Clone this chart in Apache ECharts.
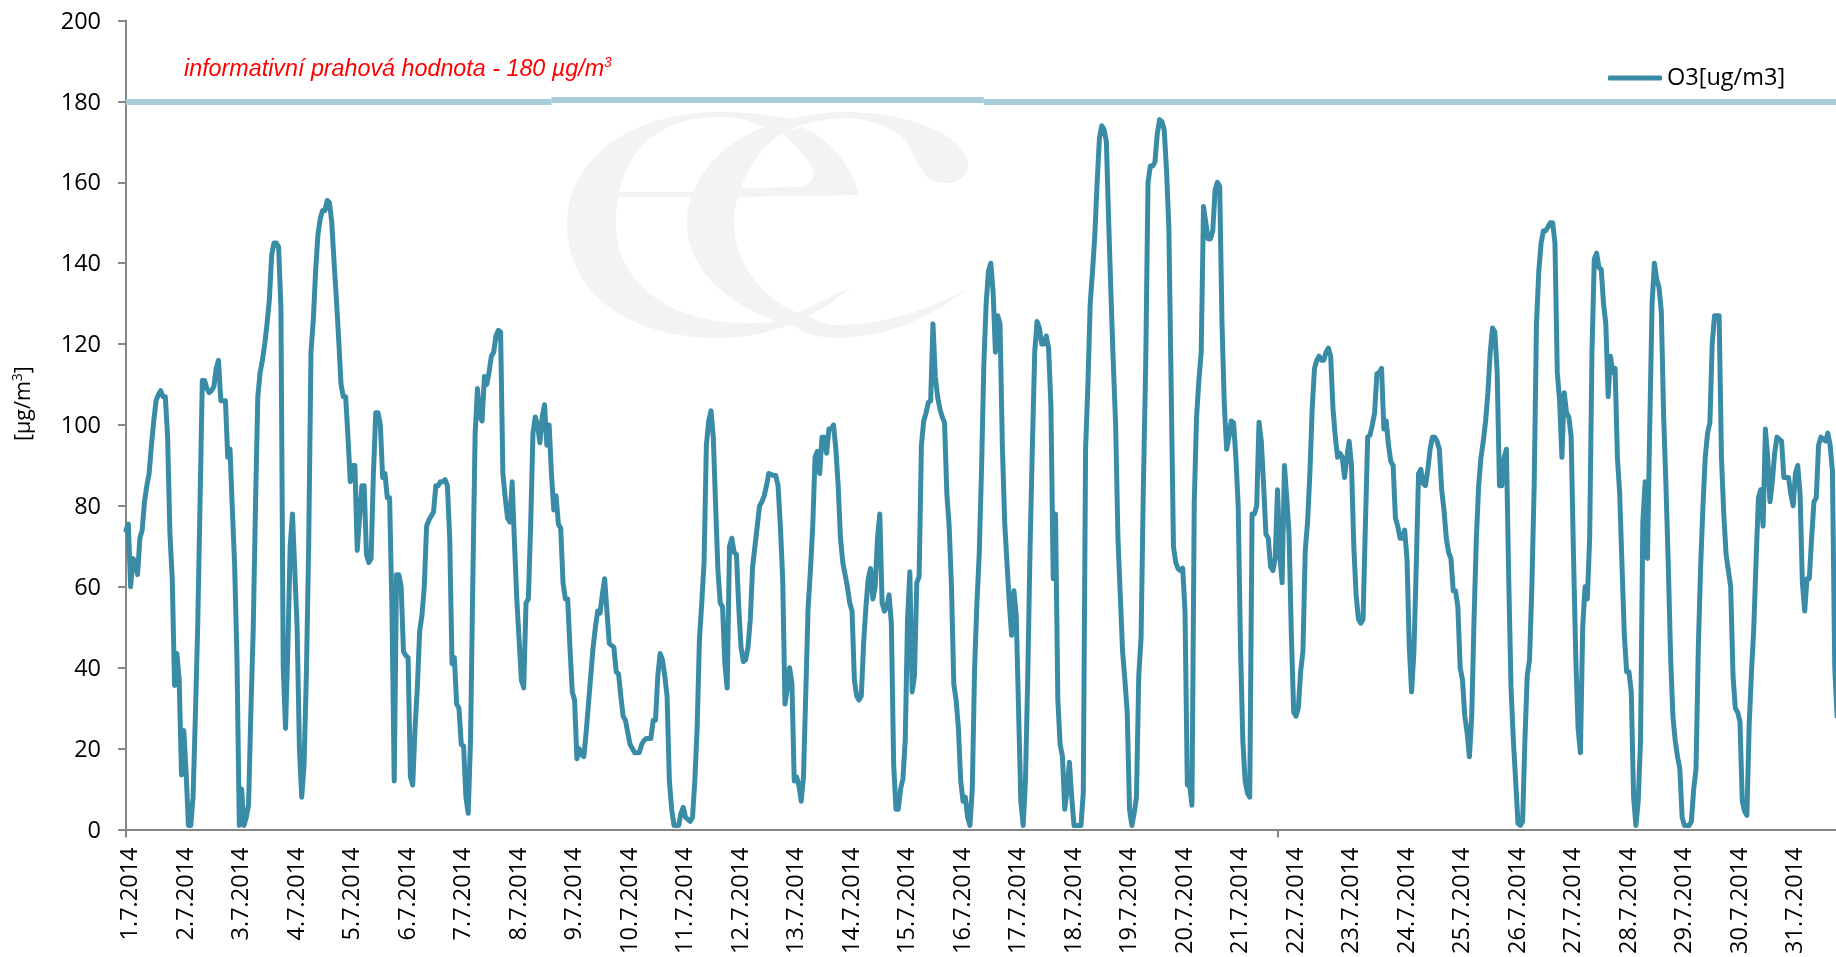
<!DOCTYPE html>
<html>
<head>
<meta charset="utf-8">
<title>O3</title>
<style>
html, body { margin: 0; padding: 0; background: #fff; overflow: hidden; }
#main { width: 1836px; height: 957px; }
</style>
<script src="https://cdn.jsdelivr.net/npm/echarts@6/dist/echarts.min.js"></script>
</head>
<body>
<div id="main"></div>
<script>
// days on the x axis, one label per 24 hourly points
var dayLabels = ['1.7.2014','2.7.2014','3.7.2014','4.7.2014','5.7.2014','6.7.2014','7.7.2014','8.7.2014',
    '9.7.2014','10.7.2014','11.7.2014','12.7.2014','13.7.2014','14.7.2014','15.7.2014','16.7.2014',
    '17.7.2014','18.7.2014','19.7.2014','20.7.2014','21.7.2014','22.7.2014','23.7.2014','24.7.2014',
    '25.7.2014','26.7.2014','27.7.2014','28.7.2014','29.7.2014','30.7.2014','31.7.2014'];

// hourly O3, one line per day (31.7. runs out of the picture)
var o3Values = [
    74,75.5,60,67,66,63,72,74,81,85,88,95,101,106,107.5,108.5,107,107,97,73,62,35.6,43.5,37,
    13.5,24.5,14,1,1,8,28,50,80,111,111,109,108,108.5,109.5,114,116,106,106,106,92,94,79,65,
    42,1,10,1,3,6,29,49,80,107,113,116,120,125,131,142,145,145,144,129,40,25,45,70,
    78,64,50,20,8,16,38,70,118,126,138,147,151,153,153,155.5,155,150,140,131,121,110,107,107,
    97,86,90,90,69,77,85,85,68,66,67,88,103,103,100,87,88,82,82,55,12,63,63,60,
    44,43,42.5,13,11,25,35,49,53,60,75,76.5,77.5,78.5,85,85,86,86,86.5,85,72,41,42.5,31,
    30,21,20.6,8,4,22,62,98,109,102,101,112,110,113,117,118,122,123.4,123,88,82,77,76,86,
    71,57,47,37,35,56,57,75,98,102,100,95.6,102,105,95,100,88,79,82.5,75.5,74.5,61,57,57,
    45,34,32,17.5,20,18.5,18,24,31,38,45,50,54,53.5,58,62,54,46,45.5,45,39,38.5,33,28,
    27,24,21,20,19,19,19,21,22,22.5,22.5,22.5,27,27,38,43.5,42,38,33,12,5,1,1,1,
    4,5.5,3,2.5,2,3,12,25,47,56,66,95,101,103.5,97,80,64,56,55,41,35,70,72,68.5,
    68,55,45,41.5,42,45,52,65,70,75,80,81,82.5,85,88,87.8,87.5,87.5,85,75,62,31,35,40,
    36,12,13,11,7,13,34,55,64,75,92,93.5,88,97,97,93,99,99,100,94,85,72,66,63,
    60,56,54,37,33,32,33,46,55,62,64.5,57,60,72,78,56,54,55,58,51,16,5,5,10,
    12.5,22,52,63.7,34,38,61,62.5,95,101,103,105.5,106,125,112,107,104,102,100.6,83,75,60,36,32,
    25,12,7,8,3,1,10,40,56,68,89,115,130,138,140,133,118,127,125,95,76,66,56,48,
    59,53,30,7,1,12,38,70,95,118,125.6,124,120,120,122,119,105,62,78,32,21,18,5,10,
    16.6,8,1,1,1,1,9,94,110,130,138,147,160,171,174,173,170,150,132,115,100,72,58,44,
    37,29,5,1,4,8,38,47.5,85,115,160,164,164,165,172,175.5,175,173,163,149,110,70,66,64.5,
    64,64.6,54,11,11,6,81,102,111,118,154,150,146,146,148,158,160,159,125,105,94,97,101,100.5,
    92,80,45,22,12,9,8,78,78,80,100.7,96,85,73,72,65,64,67,84,68,61,90,82,73,
    48,29,28,30,39,44,69,76,88,104,114,116,117,116,116,118,119,117,104,97,92,93,92,87,
    92,96,90,70,58,52,51,52,75,97,97.5,100,103,112.7,113,114,99,101,95,91,90,77,75,72,
    72,74,67,45,34,44,65,88,89,85.5,85,89,94,97,97,96,94,84,79,72,68.5,67,59,59,
    55,40,37,28,24,18,28,52,72,85,92,96,101,108,118,124,123,113,85,85,92,94,62,35,
    22,12,1.5,1,2,22,38,42,60,85,125,138,145,148,148,149,150,150,145,113,106,92,108,103,
    102,97,68,42.5,25,19,50,60,57,72,118,141,142.5,139,138.5,130,125,107,117,113,114,92,83,65,
    48,39,39,34,8,1,7,22,76,86,67,100,130,140,136,134,128,102,85,65.5,43,28,22,18,
    15,3,1,1,1,2,10,15,45,65,80,92,98,100.6,120,127,127,127,92,78,68,64,60,38,
    30,29,26.7,7,4.5,3.5,26,39,50,67,82,84,75,99,92,81,86,93,97,96.5,96,87,87,87,
    83,80,88,90,83,61,54,62,62,72,81,82,95,97,96.5,96,98,95,88.6,40,28
];

// limit line is drawn in three pieces, the middle one sits a hair higher
var limitBreaks = [0, 184, 371, 743];
var limitLevels = [180, 180.3, 180];

var seriesName = 'O3[ug/m3]';
var lineColor = '#3a8ca6';
var limitColor = '#a8cedb';
var axisColor = '#868686';
var labelFont = '"Open Sans"';
var logoColor = '#f3f3f3';

var categories = [];
for (var d = 0; d < dayLabels.length; d++) {
    for (var h = 0; h < 24; h++) {
        categories.push(dayLabels[d]);
    }
}

var limitSegments = [];
for (var i = 0; i < limitLevels.length; i++) {
    limitSegments.push([
        {coord: [limitBreaks[i], limitLevels[i]]},
        {coord: [limitBreaks[i + 1], limitLevels[i]]}
    ]);
}

// ec logo watermark, goes behind the chart as an svg image
var logoSvg = '<svg xmlns="http://www.w3.org/2000/svg" width="1836" height="957"><g fill="' + logoColor + '">'
    + '<path d="M851 287 C810 322 765 338 719 338 C625 338 567 290 567 225 C567 160 630 112 719 112 C752 112 785 116 802 122 L765 128 C750 119 735 117 719 117 C650 117 616 160 616 225 C616 285 675 327 758 323 C775 323 790 318 798 313 Z"/>'
    + '<path d="M970 287 C925 322 880 338 837 338 C820 338 805 333 798 328 C730 310 687 270 687 223 C687 180 725 135 782 122 C800 116 822 112 845 112 C905 112 968 135 968 165 C968 178 955 184 944 183 C932 182 927 178 924 173 C918 165 912 152 908 143 C895 128 870 118 845 118 C830 118 815 121 802 125 L782 133 C755 150 734 190 734 223 C734 265 765 300 798 313 L811 318 C820 322 828 325 837 325 C885 325 930 310 970 287 Z"/>'
    + '<path d="M802 127 C830 140 852 165 859 195 L734 197 L734 188 L802 187 C812 183 815 175 813 170 C808 157 795 145 782 133 Z"/>'
    + '<rect x="616" y="192" width="80" height="5"/>'
    + '</g></svg>';

var myChart = echarts.init(document.getElementById('main'), null, {renderer: 'canvas'});

var option = {
    animation: false,
    backgroundColor: '#fff',
    // the axis runs past the right edge of the window, as in the picture
    grid: {left: 126, top: 20.5, width: 1718, height: 809, outerBoundsMode: 'none'},
    legend: {
        data: [seriesName],
        left: 1603,
        top: 61,
        icon: 'roundRect',
        itemWidth: 54,
        itemHeight: 5,
        itemGap: 6,
        itemStyle: {color: lineColor},
        textStyle: {fontFamily: labelFont, fontSize: 23.5, color: '#000'}
    },
    xAxis: {
        type: 'category',
        data: categories,
        boundaryGap: false,
        axisLine: {lineStyle: {color: axisColor, width: 2}},
        axisTick: {show: true, customValues: [0, 498], length: 8, lineStyle: {color: axisColor, width: 2}},
        axisLabel: {
            interval: 23,
            rotate: 90,
            margin: 18,
            // rich token, padding nudges the rotated text onto the tick
            formatter: function (value) {
                return '{a|' + value + '}';
            },
            rich: {a: {padding: [9, 0, 0, 0], fontFamily: labelFont, fontSize: 23.5, color: '#000'}}
        },
        splitLine: {show: false}
    },
    yAxis: {
        type: 'value',
        min: 0,
        max: 200,
        interval: 20,
        axisLine: {show: true, lineStyle: {color: axisColor, width: 2}},
        axisTick: {show: true, length: 8, lineStyle: {color: axisColor, width: 2}},
        axisLabel: {
            margin: 25,
            formatter: function (value) {
                return '{a|' + value + '}';
            },
            rich: {a: {padding: [3, 0, 0, 0], fontFamily: labelFont, fontSize: 23.5, color: '#000'}}
        },
        splitLine: {show: false}
    },
    graphic: [
        {type: 'image', z: 0, silent: true, x: 0, y: 0, style: {
            image: 'data:image/svg+xml;charset=utf-8,' + encodeURIComponent(logoSvg),
            width: 1836,
            height: 957
        }},
        // limit caption
        {type: 'text', z: 5, x: 184, y: 56, style: {
            text: '{t|informativní prahová hodnota - 180 µg/m}{s|3}',
            rich: {
                t: {font: 'italic 23.3px "Liberation Sans"', fill: '#ff0000', lineHeight: 28},
                s: {font: 'italic 14px "Liberation Sans"', fill: '#ff0000', verticalAlign: 'top', lineHeight: 28}
            }
        }},
        // y axis unit
        {type: 'text', z: 5, x: 11, y: 441, rotation: Math.PI / 2, style: {
            text: '{t|[µg/m}{s|3}{t|]}',
            rich: {
                t: {font: '21.5px "Open Sans"', fill: '#000', lineHeight: 26},
                s: {font: '14px "Open Sans"', fill: '#000', verticalAlign: 'top', lineHeight: 26}
            }
        }}
    ],
    series: [{
        name: seriesName,
        type: 'line',
        data: o3Values,
        z: 3,
        smooth: false,
        showSymbol: false,
        clip: false,
        lineStyle: {color: lineColor, width: 5, cap: 'round', join: 'round'},
        itemStyle: {color: lineColor},
        markLine: {
            silent: true,
            symbol: 'none',
            label: {show: false},
            lineStyle: {color: limitColor, width: 6, type: 'solid'},
            data: limitSegments
        }
    }]
};

myChart.setOption(option);
</script>
</body>
</html>
